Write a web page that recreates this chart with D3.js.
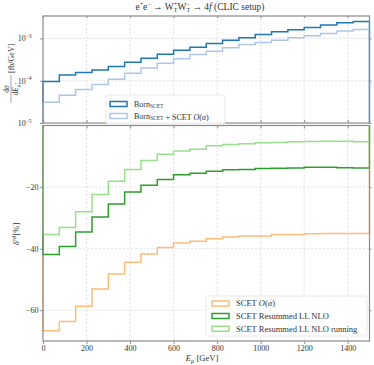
<!DOCTYPE html>
<html><head><meta charset="utf-8">
<script src="https://cdn.jsdelivr.net/npm/d3@7"></script>
<style>
body{margin:0;background:#fff}
svg{display:block}
text{font-family:"Liberation Serif","DejaVu Serif",serif;fill:#333}
</style>
</head><body>
<svg id="c" width="374" height="365"></svg>
<script>
// ---------- data ----------
const binEdges = [0,75,150,225,300,375,450,525,600,675,750,825,900,975,1050,1125,1200,1275,1350,1425,1500];
const bornSCET = [9.55e-5,1.37e-4,1.56e-4,1.78e-4,2.17e-4,2.74e-4,3.41e-4,4.25e-4,5.28e-4,6.22e-4,7.6e-4,9.1e-4,1.035e-3,1.24e-3,1.44e-3,1.60e-3,1.82e-3,2.07e-3,2.35e-3,2.52e-3];
const bornPlusSCET = [3.10e-5,4.53e-5,6.18e-5,8.1e-5,1.09e-4,1.51e-4,2.01e-4,2.60e-4,3.29e-4,4.17e-4,5.0e-4,6.0e-4,7.2e-4,8.0e-4,9.1e-4,1.035e-3,1.15e-3,1.31e-3,1.49e-3,1.63e-3];
const scetNLO = [-66.7,-63.7,-58.7,-53.1,-48.2,-44.4,-41.7,-39.6,-38.2,-37.6,-36.8,-36.2,-35.9,-35.9,-35.4,-35.4,-35.2,-35.1,-35.1,-35.1];
const resumLL = [-41.9,-39.3,-34.6,-29.7,-25.5,-21.6,-19.4,-17.5,-16.0,-15.5,-14.9,-14.4,-14.3,-14.0,-13.9,-13.8,-13.6,-13.6,-13.7,-13.8];
const resumLLrun = [-35.4,-33.1,-28.0,-22.4,-18.1,-14.3,-11.4,-9.3,-8.3,-7.7,-6.6,-6.2,-5.9,-5.6,-5.5,-5.3,-5.2,-5.1,-5.1,-5.3];
const xTicks = [0,200,400,600,800,1000,1200,1400];
const topYTicks = [1e-5,1e-4,1e-3];
const botYTicks = [-60,-40,-20];
const colors = {born:"#1f77b4", bornPlus:"#aec7e8", scet:"#ffbb78", ll:"#2ca02c", llrun:"#98df8a"};

// ---------- layout ----------
const svg = d3.select("#c");
const L=43, R=369.5, T1=16, B1=123, T2=125.5, B2=341;
const x = d3.scaleLinear().domain([0,1500]).range([L,R]);
const yTop = d3.scaleLog().domain([1e-5, Math.pow(10,-2.47)]).range([B1,T1]);
const yBot = d3.scaleLinear().domain([-70,0]).range([B2,T2]);

const defs = svg.append("defs");
defs.append("clipPath").attr("id","clipTop").append("rect").attr("x",L-1).attr("y",T1).attr("width",R-L+2).attr("height",B1-T1);
defs.append("clipPath").attr("id","clipBot").append("rect").attr("x",L-1).attr("y",T2).attr("width",R-L+2).attr("height",B2-T2);

// grids
function grid(y0,y1,yTicks,ys){
  const g = svg.append("g").attr("stroke","#d9d9d9").attr("stroke-width",0.7).attr("stroke-dasharray","2.5,1.5");
  xTicks.filter(d=>d>0).forEach(d=>g.append("line").attr("x1",x(d)).attr("x2",x(d)).attr("y1",y0).attr("y2",y1));
  yTicks.forEach(d=>g.append("line").attr("x1",L).attr("x2",R).attr("y1",ys(d)).attr("y2",ys(d)));
}
grid(T1,B1,[1e-4,1e-3],yTop);
grid(T2,B2,botYTicks,yBot);

// steps
function stepPath(vals, ys, base){
  const pts=[[x(binEdges[0]), base]];
  vals.forEach((v,i)=>{pts.push([x(binEdges[i]), ys(v)]); pts.push([x(binEdges[i+1]), ys(v)]);});
  pts.push([x(binEdges[binEdges.length-1]), base]);
  return d3.line()(pts);
}
const gTop = svg.append("g").attr("clip-path","url(#clipTop)");
[[bornSCET,colors.born],[bornPlusSCET,colors.bornPlus]].forEach(([v,c])=>{
  gTop.append("path").attr("d",stepPath(v,yTop,B1+5)).attr("fill","none").attr("stroke",c).attr("stroke-width",1.5);
});
const gBot = svg.append("g").attr("clip-path","url(#clipBot)");
[[scetNLO,colors.scet],[resumLL,colors.ll],[resumLLrun,colors.llrun]].forEach(([v,c])=>{
  gBot.append("path").attr("d",stepPath(v,yBot,yBot(0))).attr("fill","none").attr("stroke",c).attr("stroke-width",1.5);
});

// axes
function styleAxis(g){ g.select(".domain").remove(); g.selectAll("line").attr("stroke","#777").attr("stroke-width",0.8); g.selectAll("text").attr("font-size",8).attr("fill","#444").attr("font-family","Liberation Serif, serif"); }
// top panel
svg.append("g").attr("transform",`translate(${L},0)`).call(d3.axisLeft(yTop).tickValues(topYTicks).tickSize(3).tickPadding(1.5).tickFormat(d=>"10")).call(styleAxis)
  .selectAll(".tick text").each(function(d){
    const t=d3.select(this); const e=Math.round(Math.log10(d));
    t.attr("dx",-7);
    t.append("tspan").attr("dy",-3.5).attr("font-size",5.5).text("−"+Math.abs(e));
  });
svg.append("g").attr("transform",`translate(${R},0)`).call(d3.axisRight(yTop).tickValues(topYTicks).tickSize(2).tickFormat("")).call(styleAxis);
svg.append("g").attr("transform",`translate(0,${B1})`).call(d3.axisBottom(x).tickValues(xTicks).tickSize(-3).tickFormat("")).call(styleAxis);
svg.append("g").attr("transform",`translate(0,${T1})`).call(d3.axisTop(x).tickValues(xTicks).tickSize(-2).tickFormat("")).call(styleAxis);
// bottom panel
svg.append("g").attr("transform",`translate(${L},0)`).call(d3.axisLeft(yBot).tickValues(botYTicks).tickSize(3).tickPadding(1.5).tickFormat(d=>d<0?"−"+Math.abs(d):d)).call(styleAxis);
svg.append("g").attr("transform",`translate(${R},0)`).call(d3.axisRight(yBot).tickValues(botYTicks).tickSize(2).tickFormat("")).call(styleAxis);
svg.append("g").attr("transform",`translate(0,${B2})`).call(d3.axisBottom(x).tickValues(xTicks).tickSize(3).tickPadding(1).tickFormat(d3.format("d"))).call(styleAxis);
svg.append("g").attr("transform",`translate(0,${T2})`).call(d3.axisTop(x).tickValues(xTicks).tickSize(-3).tickFormat("")).call(styleAxis);

// spines
[[T1,B1],[T2,B2]].forEach(([a,b])=>svg.append("rect").attr("x",L).attr("y",a).attr("width",R-L).attr("height",b-a).attr("fill","none").attr("stroke","#8a8a8a").attr("stroke-width",1.2));

// legends
function legend(x0,y0,w,h,items,px,tx,ys,fs){
  const g=svg.append("g");
  g.append("rect").attr("x",x0).attr("y",y0).attr("width",w).attr("height",h).attr("rx",2).attr("fill","#fff").attr("fill-opacity",0.85).attr("stroke","#e2e2e2").attr("stroke-width",0.8);
  items.forEach((it,i)=>{
    g.append("rect").attr("x",px).attr("y",ys[i]-2.5).attr("width",17).attr("height",5).attr("fill","none").attr("stroke",it.c).attr("stroke-width",1.5);
    const t=g.append("text").attr("x",tx).attr("y",ys[i]+2.8).attr("font-size",fs).attr("fill","#444");
    it.f(t);
  });
}
function bornSub(t){ t.append("tspan").text("Born"); t.append("tspan").attr("font-size",5.5).attr("dy",1.5).text("SCET"); t.append("tspan").attr("dy",-1.5).text(""); }
function Oalpha(t){ t.append("tspan").attr("font-style","italic").text("O"); t.append("tspan").text("("); t.append("tspan").attr("font-style","italic").text("α"); t.append("tspan").text(")"); }
legend(106,95,119,29,[
  {c:colors.born,f:t=>bornSub(t)},
  {c:colors.bornPlus,f:t=>{bornSub(t); t.append("tspan").text(" + SCET "); Oalpha(t);}}
],110,134,[104,116],8);
legend(206,296,161,40,[
  {c:colors.scet,f:t=>{t.append("tspan").text("SCET "); Oalpha(t);}},
  {c:colors.ll,f:t=>t.text("SCET Resummed LL NLO")},
  {c:colors.llrun,f:t=>t.text("SCET Resummed LL NLO running")}
],212,236,[303.5,316,328.7],8.5);

// title
const title=svg.append("text").attr("x",200).attr("y",9.5).attr("text-anchor","middle").attr("font-size",9.5).attr("fill","#333");
title.append("tspan").text("e");
title.append("tspan").attr("dy",-3.5).attr("font-size",6).text("+");
title.append("tspan").attr("dy",3.5).text("e");
title.append("tspan").attr("dy",-3.5).attr("font-size",6).text("−");
title.append("tspan").attr("dy",3.5).text(" → W");
title.append("tspan").attr("dy",-3.5).attr("font-size",6).text("+");
title.append("tspan").attr("dy",6).attr("dx",-3.4).attr("font-size",6).text("T");
title.append("tspan").attr("dy",-2.5).text("W");
title.append("tspan").attr("dy",-3.5).attr("font-size",6).text("−");
title.append("tspan").attr("dy",6).attr("dx",-3.4).attr("font-size",6).text("T");
title.append("tspan").attr("dy",-2.5).text(" → 4");
title.append("tspan").attr("font-style","italic").text("f");
title.append("tspan").text(" (CLIC setup)");

// x label
const xl=svg.append("text").attr("x",202).attr("y",361).attr("text-anchor","middle").attr("font-size",8.5).attr("fill","#444");
xl.append("tspan").attr("font-style","italic").text("E");
xl.append("tspan").attr("dy",1.5).attr("font-size",6).attr("font-style","italic").text("μ");
xl.append("tspan").attr("dy",-2.5).attr("font-size",4.5).text("+");
xl.append("tspan").attr("dy",1).text("[GeV]");

// y label bottom
const yb=svg.append("text").attr("transform","translate(19,234) rotate(-90)").attr("text-anchor","middle").attr("font-size",8.5).attr("fill","#444");
yb.append("tspan").attr("font-style","italic").text("δ");
yb.append("tspan").attr("dy",-3.5).attr("font-size",5.5).text("rel");
yb.append("tspan").attr("dy",3.5).text("[%]");

// y label top (fraction)
const yt=svg.append("g").attr("transform","translate(11,72) rotate(-90)");
yt.append("line").attr("x1",-31).attr("x2",-3).attr("y1",0).attr("y2",0).attr("stroke","#444").attr("stroke-width",0.5);
yt.append("text").attr("x",-17).attr("y",-1.8).attr("text-anchor","middle").attr("font-size",7.5).attr("fill","#444")
  .call(t=>{t.append("tspan").text("d"); t.append("tspan").attr("font-style","italic").text("σ");});
yt.append("text").attr("x",-17).attr("y",7).attr("text-anchor","middle").attr("font-size",7.5).attr("fill","#444")
  .call(t=>{t.append("tspan").text("d"); t.append("tspan").attr("font-style","italic").text("E");
    t.append("tspan").attr("dy",1.5).attr("font-size",5).attr("font-style","italic").text("μ");
    t.append("tspan").attr("dy",-2.5).attr("font-size",4).text("+");});
yt.append("text").attr("x",-1).attr("y",3).attr("font-size",8).attr("fill","#444").text("[fb/GeV]");
</script>
</body></html>
